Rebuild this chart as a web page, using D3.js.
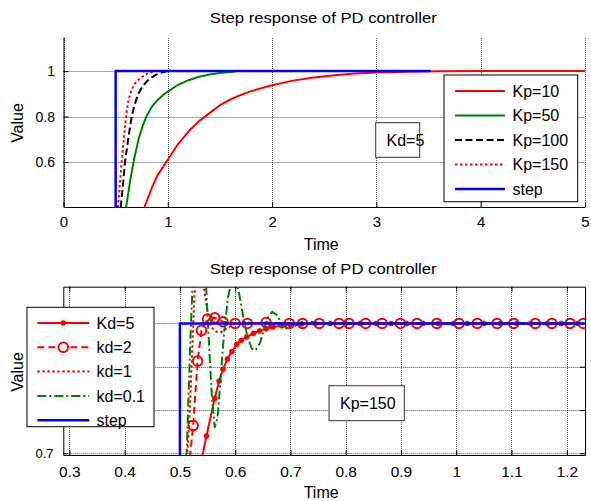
<!DOCTYPE html>
<html>
<head>
<meta charset="utf-8">
<script src="https://cdn.jsdelivr.net/npm/d3@7"></script>
<style>
  html, body { margin: 0; padding: 0; background: #fff; }
  svg { display: block; font-family: "Liberation Sans", Arial, Helvetica, sans-serif; }
</style>
</head>
<body>
<svg id="chart" width="591" height="501"></svg>
<script>
// ---------- Upper panel: Kd = 5, varying Kp ----------
const kpTitle = "Step response of PD controller";
const kpXTicks = [0, 1, 2, 3, 4, 5];
const kpYTicks = [0.6, 0.8, 1];

const kp10T = [0.775, 0.85, 0.9, 1.0, 1.1, 1.2, 1.3, 1.4, 1.5, 1.6, 1.7, 1.8, 2.0, 2.2, 2.4, 2.6, 2.8, 3.0, 3.3, 3.6, 4.0, 5.0];
const kp10V = [0.40, 0.49, 0.54, 0.61, 0.68, 0.735, 0.78, 0.815, 0.85, 0.875, 0.895, 0.912, 0.938, 0.958, 0.972, 0.982, 0.989, 0.994, 0.997, 0.999, 1.0, 1.0];

const kp50T = [0.60, 0.64, 0.68, 0.72, 0.76, 0.80, 0.85, 0.90, 0.95, 1.0, 1.1, 1.2, 1.3, 1.4, 1.5, 1.65];
const kp50V = [0.40, 0.52, 0.62, 0.70, 0.76, 0.805, 0.845, 0.872, 0.893, 0.91, 0.94, 0.96, 0.975, 0.985, 0.992, 0.998];

const kp100T = [0.548, 0.57, 0.59, 0.62, 0.654, 0.68, 0.717, 0.76, 0.80, 0.83, 0.88, 0.93, 0.99];
const kp100V = [0.40, 0.50, 0.60, 0.70, 0.80, 0.85, 0.90, 0.935, 0.955, 0.968, 0.982, 0.992, 0.999];

const kp150T = [0.522, 0.54, 0.558, 0.578, 0.60, 0.618, 0.64, 0.67, 0.70, 0.735, 0.78, 0.83, 0.88];
const kp150V = [0.40, 0.50, 0.60, 0.70, 0.80, 0.86, 0.90, 0.935, 0.955, 0.968, 0.983, 0.994, 0.999];

const stepTopT = [0, 0.5, 0.5, 3.52];
const stepTopV = [0, 0, 1, 1];

const kpLegend = ["Kp=10", "Kp=50", "Kp=100", "Kp=150", "step"];
const kpNote = "Kd=5";

// ---------- Lower panel: Kp = 150, varying Kd ----------
const kdTitle = "Step response of PD controller";
const kdXTicks = [0.3, 0.4, 0.5, 0.6, 0.7, 0.8, 0.9, 1.0, 1.1, 1.2];
const kdYTicks = [0.7, 0.8, 0.9, 1];

const kd5T = [0.540, 0.548, 0.563, 0.571, 0.578, 0.586, 0.594, 0.603, 0.611, 0.621, 0.633, 0.644, 0.656, 0.668, 0.684, 0.700, 0.720, 0.745, 0.772, 0.80, 0.826, 0.855, 0.882, 0.91, 0.94, 0.968, 0.995, 1.02, 1.05, 1.08, 1.11, 1.135, 1.165, 1.19, 1.22];
const kd5V = [0.690, 0.740, 0.827, 0.867, 0.894, 0.918, 0.935, 0.952, 0.961, 0.969, 0.977, 0.983, 0.988, 0.992, 0.995, 0.997, 0.999, 1.0, 1.0, 1.0, 1.0, 1.0, 1.0, 1.0, 1.0, 1.0, 1.0, 1.0, 1.0, 1.0, 1.0, 1.0, 1.0, 1.0, 1.0];

const kd2T = [0.518, 0.524, 0.532, 0.539, 0.550, 0.563, 0.578, 0.600, 0.622, 0.656, 0.698, 0.722, 0.752, 0.788, 0.806, 0.836, 0.866, 0.899, 0.929, 0.965, 1.005, 1.038, 1.074, 1.104, 1.143, 1.173, 1.206, 1.23];
const kd2V = [0.690, 0.764, 0.913, 0.984, 1.010, 1.013, 1.004, 1.000, 1.000, 1.002, 1.000, 1.000, 1.000, 1.000, 1.000, 1.000, 1.000, 1.000, 1.000, 1.000, 1.000, 1.000, 1.000, 1.000, 1.000, 1.000, 1.000, 1.000];

const kd1T = [0.513, 0.518, 0.522, 0.526, 0.530, 0.536, 0.541, 0.546, 0.552, 0.558, 0.566, 0.574, 0.584, 0.598, 0.615, 0.635, 0.66, 1.23];
const kd1V = [0.690, 0.800, 0.930, 1.060, 1.120, 1.150, 1.110, 1.060, 1.010, 0.990, 0.981, 0.980, 0.988, 0.998, 1.003, 1.001, 1.000, 1.000];

const kd01T = [0.512, 0.516, 0.520, 0.525, 0.532, 0.540, 0.546, 0.550, 0.554, 0.558, 0.563, 0.568, 0.574, 0.580, 0.587, 0.594, 0.601, 0.607, 0.614, 0.622, 0.630, 0.637, 0.645, 0.653, 0.660, 0.667, 0.675, 0.684, 0.693, 0.702, 0.713, 0.725, 0.738, 0.750, 0.765, 0.780, 1.23];
const kd01V = [0.690, 0.850, 1.000, 1.150, 1.280, 1.250, 1.120, 1.020, 0.920, 0.830, 0.760, 0.780, 0.880, 0.980, 1.060, 1.100, 1.100, 1.070, 1.020, 0.970, 0.942, 0.938, 0.955, 0.990, 1.015, 1.027, 1.020, 1.000, 0.988, 0.990, 0.998, 1.004, 1.004, 1.000, 0.998, 1.000, 1.000];

const stepBotT = [0.28, 0.5, 0.5, 1.24];
const stepBotV = [0, 0, 1, 1];

const kdLegend = ["Kd=5", "kd=2", "kd=1", "kd=0.1", "step"];
const kdNote = "Kp=150";

// ---------- drawing ----------
const svg = d3.select("#chart");
const RED = "#ff0000", GREEN = "#008000", BLUE = "#0000ff", BLACK = "#000000";
const zip = (t, v) => t.map((d, i) => [d, v[i]]);

function panel(cfg) {
  const g = svg.append("g");
  const x = d3.scaleLinear().domain(cfg.xDom).range(cfg.xRange);
  const y = d3.scaleLinear().domain(cfg.yDom).range(cfg.yRange);
  const [x0, x1] = cfg.xRange, [y0, y1] = cfg.yRange; // y0 bottom, y1 top

  // grid
  const grid = g.append("g").attr("stroke", "#505050").attr("stroke-width", 1).attr("stroke-dasharray", "1,1");
  cfg.xTicks.forEach(t => grid.append("line")
    .attr("x1", Math.round(x(t)) + 0.5).attr("x2", Math.round(x(t)) + 0.5)
    .attr("y1", y0).attr("y2", y1));
  cfg.yTicks.forEach(t => grid.append("line")
    .attr("x1", x0).attr("x2", x1)
    .attr("y1", Math.round(y(t)) + 0.5).attr("y2", Math.round(y(t)) + 0.5));

  // axes (ticks point inward)
  const xAx = d3.axisBottom(x).tickValues(cfg.xTicks).tickSize(-5).tickSizeOuter(0).tickFormat(d3.format("~g"));
  const yAx = d3.axisLeft(y).tickValues(cfg.yTicks).tickSize(-5).tickSizeOuter(0).tickFormat(d3.format("~g"));
  const gx = g.append("g").attr("transform", `translate(0,${y0})`).call(xAx);
  const gy = g.append("g").attr("transform", `translate(${x0},0)`).call(yAx);
  [gx, gy].forEach(a => {
    a.select(".domain").attr("stroke", BLACK).attr("stroke-width", 1);
    a.selectAll(".tick line").attr("stroke", BLACK);
    a.selectAll(".tick text").attr("fill", BLACK).attr("font-family", "Liberation Sans, Arial, sans-serif");
  });
  gx.selectAll(".tick text").attr("font-size", cfg.xTickFont).attr("dy", null).attr("y", cfg.xTickY - y0);
  gy.selectAll(".tick text").attr("font-size", cfg.yTickFont).attr("x", cfg.yTickX - x0).attr("dy", "0.35em");

  if (cfg.box) {
    const xTop = d3.axisTop(x).tickValues(cfg.xTicks).tickSize(-5).tickSizeOuter(0).tickFormat("");
    const yRight = d3.axisRight(y).tickValues(cfg.yTicks).tickSize(-5).tickSizeOuter(0).tickFormat("");
    const gt = g.append("g").attr("transform", `translate(0,${y1})`).call(xTop);
    const gr = g.append("g").attr("transform", `translate(${x1},0)`).call(yRight);
    [gt, gr].forEach(a => {
      a.select(".domain").attr("stroke", BLACK);
      a.selectAll(".tick line").attr("stroke", BLACK);
    });
  }

  // clip region
  const clipId = "clip" + cfg.id;
  svg.append("defs").append("clipPath").attr("id", clipId)
    .append("rect").attr("x", x0).attr("y", y1).attr("width", x1 - x0).attr("height", y0 - y1);
  const plot = g.append("g").attr("clip-path", `url(#${clipId})`);
  const line = d3.line().x(d => x(d[0])).y(d => y(d[1]));

  cfg.series.forEach(s => {
    const pts = zip(s.t, s.v);
    plot.append("path").attr("d", line(pts)).attr("fill", "none")
      .attr("stroke", s.color).attr("stroke-width", s.width)
      .attr("stroke-dasharray", s.dash || null)
      .attr("stroke-linejoin", "round");
    if (s.marker) {
      const mp = pts.filter(p => p[1] >= cfg.yDom[0] && p[1] <= cfg.yDom[1]);
      plot.selectAll(null).data(mp).enter().append("circle")
        .attr("cx", d => x(d[0])).attr("cy", d => y(d[1]))
        .attr("r", s.marker === "dot" ? 2.6 : 4.8)
        .attr("fill", s.marker === "dot" ? s.color : "none")
        .attr("stroke", s.color).attr("stroke-width", s.marker === "dot" ? 0.5 : 2);
    }
  });

  // title and axis labels
  g.append("text").attr("x", (x0 + x1) / 2 - 1).attr("y", cfg.titleY).attr("text-anchor", "middle")
    .attr("font-size", 15).attr("textLength", 227).attr("lengthAdjust", "spacingAndGlyphs")
    .text(cfg.title);
  g.append("text").attr("x", (x0 + x1) / 2 - 3).attr("y", cfg.xLabelY).attr("text-anchor", "middle")
    .attr("font-size", 16).text("Time");
  g.append("text").attr("transform", `translate(23,${cfg.yLabelC}) rotate(-90)`).attr("text-anchor", "middle")
    .attr("font-size", 16).text("Value");

  // annotation box
  const nb = cfg.note;
  g.append("rect").attr("x", nb.x).attr("y", nb.y).attr("width", nb.w).attr("height", nb.h)
    .attr("fill", "#fff").attr("stroke", "#333").attr("stroke-width", 1);
  g.append("text").attr("x", nb.tx).attr("y", nb.y + nb.h / 2).attr("dy", "0.35em")
    .attr("font-size", 16).text(nb.text);

  // legend
  const L = cfg.legend;
  g.append("rect").attr("x", L.x).attr("y", L.y).attr("width", L.w).attr("height", L.h)
    .attr("fill", "#fff").attr("stroke", BLACK).attr("stroke-width", 1);
  cfg.series.forEach((s, i) => {
    const cy = L.firstY + i * L.step;
    g.append("line").attr("x1", L.lx0).attr("x2", L.lx1).attr("y1", cy).attr("y2", cy)
      .attr("stroke", s.color).attr("stroke-width", s.width).attr("stroke-dasharray", s.dash || null);
    if (s.marker) {
      g.append("circle").attr("cx", (L.lx0 + L.lx1) / 2).attr("cy", cy)
        .attr("r", s.marker === "dot" ? 2.6 : 4.8)
        .attr("fill", s.marker === "dot" ? s.color : "#fff")
        .attr("stroke", s.color).attr("stroke-width", s.marker === "dot" ? 0.5 : 2);
    }
    g.append("text").attr("x", L.tx).attr("y", cy).attr("dy", "0.36em")
      .attr("font-size", 16).text(L.labels[i]);
  });
}

panel({
  id: "top",
  xDom: [0, 5], xRange: [63.5, 585],
  yDom: [0.402, 1.15], yRange: [207, 37],
  xTicks: kpXTicks, yTicks: kpYTicks,
  xTickFont: 15, yTickFont: 14, xTickY: 227, yTickX: 55,
  box: false,
  title: kpTitle, titleY: 23, xLabelY: 250, yLabelC: 123,
  series: [
    { t: kp10T, v: kp10V, color: RED, width: 2 },
    { t: kp50T, v: kp50V, color: GREEN, width: 2 },
    { t: kp100T, v: kp100V, color: BLACK, width: 2, dash: "7,3.5" },
    { t: kp150T, v: kp150V, color: RED, width: 2, dash: "2.5,2.5" },
    { t: stepTopT, v: stepTopV, color: BLUE, width: 2.5 }
  ],
  note: { x: 375.7, y: 122.7, w: 44, h: 34.6, tx: 386.5, text: kpNote },
  legend: { x: 444, y: 75, w: 133.7, h: 126.7, firstY: 91, step: 24.5, lx0: 455, lx1: 505, tx: 512.5, labels: kpLegend }
});

panel({
  id: "bot",
  xDom: [0.289, 1.233], xRange: [63.3, 585],
  yDom: [0.696, 1.085], yRange: [455, 286.7],
  xTicks: kdXTicks, yTicks: kdYTicks,
  xTickFont: 15.5, yTickFont: 13, xTickY: 477, yTickX: 53.5,
  box: true,
  title: kdTitle, titleY: 274, xLabelY: 498, yLabelC: 372,
  series: [
    { t: kd5T, v: kd5V, color: RED, width: 2, marker: "dot" },
    { t: kd2T, v: kd2V, color: RED, width: 2, dash: "7,4", marker: "circle" },
    { t: kd1T, v: kd1V, color: RED, width: 2, dash: "2.5,2.5" },
    { t: kd01T, v: kd01V, color: GREEN, width: 2, dash: "9,3,2,3" },
    { t: stepBotT, v: stepBotV, color: BLUE, width: 2.5 }
  ],
  note: { x: 329, y: 385.7, w: 75.3, h: 35, tx: 340, text: kdNote },
  legend: { x: 27, y: 307.3, w: 127, h: 119.4, firstY: 323, step: 24.3, lx0: 37.3, lx1: 89.3, tx: 96.5, labels: kdLegend }
});
</script>
</body>
</html>
